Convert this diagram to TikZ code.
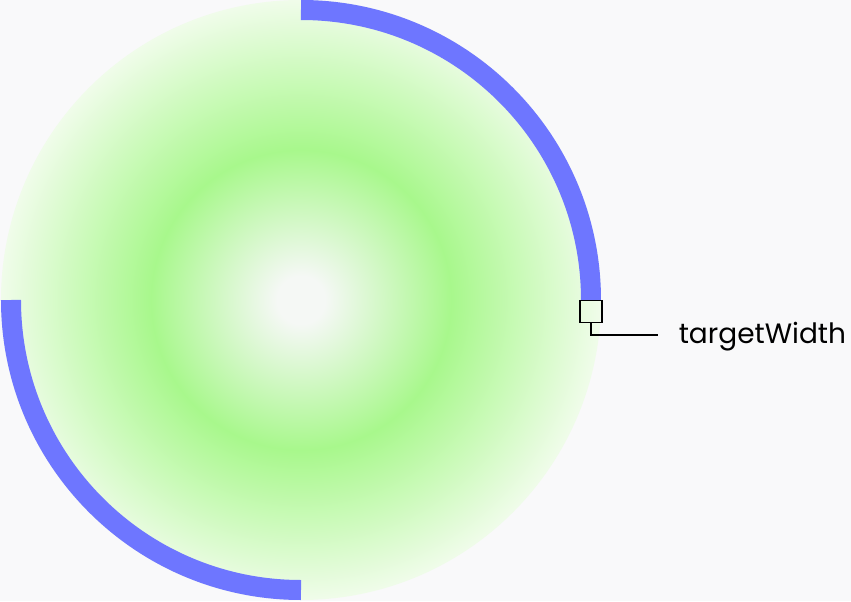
\documentclass[tikz,border=0pt]{standalone}
\usepackage{fontspec}
\setmainfont{Poppins}
\usepackage{xcolor}
\usetikzlibrary{positioning,calc}
\definecolor{pagebg}{HTML}{F9F9FA}
\definecolor{glowmid}{HTML}{F5F8F5}
\definecolor{glowring}{HTML}{A8F88C}
\definecolor{glowedge}{HTML}{F0FCEA}
\definecolor{arcblue}{HTML}{6E76FF}
\pgfdeclareradialshading{glow}{\pgfpointorigin}{color(0bp)=(glowmid); color(2bp)=(glowmid); color(12.5bp)=(glowring); color(25bp)=(glowedge); color(50bp)=(glowedge)}

\begin{document}
\begin{tikzpicture}[x=0.75pt, y=0.75pt, line width=1.2pt,
  arcband/.style={draw=arcblue, line width=15pt, line cap=butt},
  marker/.style={draw=black, minimum size=16.5pt, inner sep=0pt},
  lbl/.style={font=\fontsize{21}{25}\selectfont, inner sep=0pt, anchor=base west}]
%% page
\fill[pagebg] (-301,-301) rectangle (550,300);
\useasboundingbox (-301,-301) rectangle (550,300);
%% target disc
\shade[shading=glow] (0,0) circle (300);
\draw[arcband] (0,290) arc[start angle=90, end angle=0, radius=290];
\draw[arcband] (-290,0) arc[start angle=180, end angle=270, radius=290];
%% width marker
\node[marker] (mark) at (290,-11.5) {};
\coordinate (lineend) at (357,-35);
\node[lbl] (name) at (377,-43) {targetWidth};
\draw (mark.south) |- (lineend);
\end{tikzpicture}
\end{document}
